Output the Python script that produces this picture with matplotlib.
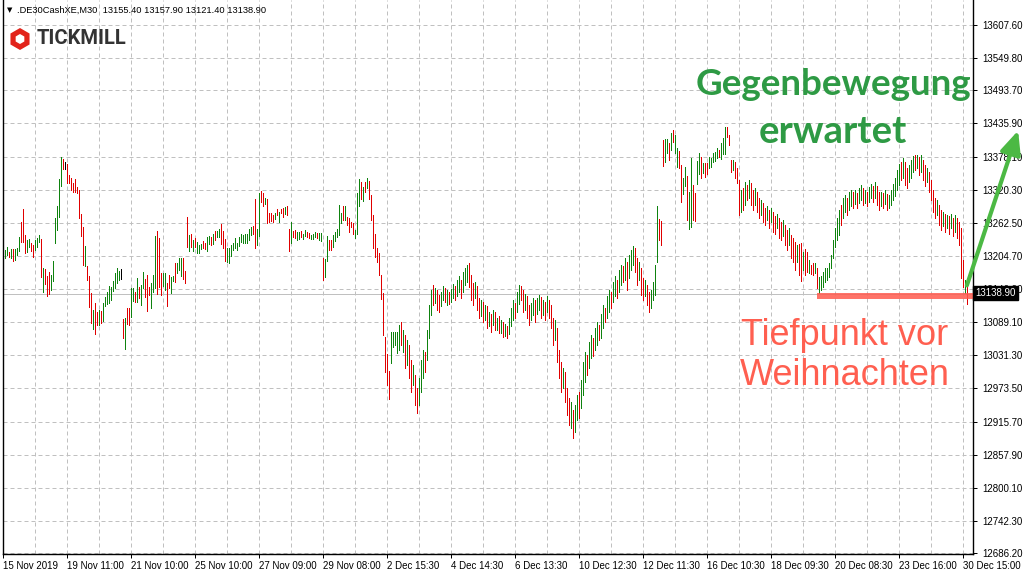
import matplotlib
matplotlib.use('Agg')
import matplotlib.pyplot as plt
from matplotlib.patches import RegularPolygon

# M30 bars of DE30 (high / low), 10 bars per row
highs = [
    13220, 13215, 13220, 13211, 13217, 13217, 13217, 13218, 13238, 13264,
    13286, 13241, 13232, 13234, 13227, 13224, 13232, 13236, 13241, 13234,
    13184, 13182, 13170, 13177, 13171, 13196, 13271, 13292, 13339, 13377,
    13374, 13369, 13365, 13346, 13341, 13332, 13339, 13325, 13320, 13278,
    13255, 13222, 13187, 13170, 13140, 13110, 13122, 13107, 13110, 13109,
    13122, 13133, 13142, 13152, 13150, 13161, 13175, 13184, 13178, 13182,
    13095, 13096, 13114, 13114, 13149, 13149, 13142, 13166, 13150, 13154,
    13177, 13164, 13171, 13150, 13157, 13171, 13239, 13248, 13236, 13175,
    13175, 13175, 13157, 13171, 13168, 13170, 13192, 13192, 13201, 13201,
    13201, 13178, 13273, 13241, 13243, 13232, 13236, 13229,
    13224, 13225, 13231, 13227, 13238, 13239, 13238, 13243, 13248, 13248,
    13252, 13260, 13248, 13234, 13218, 13218, 13224, 13227, 13236, 13227,
    13238, 13243, 13241, 13243, 13243, 13252, 13255, 13257, 13304, 13252,
    13314, 13318, 13314, 13306, 13304, 13280, 13280, 13276, 13280, 13287,
    13281, 13287, 13288, 13290, 13292, 13252, 13264, 13248, 13250, 13246,
    13246, 13248, 13243, 13250, 13246, 13245, 13241, 13243, 13246, 13245,
    13245, 13245, 13201, 13199, 13239, 13232, 13232, 13241, 13246, 13252,
    13293, 13280, 13292, 13292, 13273, 13271, 13264, 13262, 13250, 13314,
    13339, 13334, 13325, 13334, 13341, 13335, 13311, 13276, 13243, 13218,
    13210, 13171, 13140, 13063, 13034, 13004, 13072, 13072, 13072, 13072,
    13084, 13089, 13075, 13067, 13058, 13049, 13023, 13014, 12997, 12974,
    12992, 13023, 13041, 13037, 13075, 13119, 13145, 13154, 13149, 13145,
    13136, 13142, 13152, 13149, 13145, 13142, 13147, 13156, 13152, 13163,
    13170, 13163, 13177, 13184, 13189, 13192, 13171, 13157, 13159, 13152,
    13131, 13128, 13124, 13119, 13117, 13107, 13103, 13110, 13107, 13096,
    13100, 13093, 13089, 13086, 13082, 13096, 13114, 13128, 13122, 13142,
    13154, 13152, 13145, 13138, 13135, 13119, 13122, 13131, 13128, 13131,
    13136, 13133, 13128, 13124, 13135, 13128, 13119, 13096, 13093, 13079,
    13041, 13019, 13009, 13002, 12974, 12957, 12950, 12936, 12945, 12962,
    12967, 12988, 13019, 13037, 13032, 13054, 13067, 13061, 13079, 13089,
    13084, 13103, 13119, 13114, 13135, 13145, 13142, 13159, 13170, 13163,
    13180, 13189, 13187, 13201, 13194, 13206, 13215, 13222, 13218, 13201,
    13194, 13184, 13166, 13163, 13154, 13142, 13145, 13159, 13189, 13292,
    13269, 13266, 13407, 13409, 13409, 13402, 13419, 13424, 13416, 13393,
    13388, 13363, 13341, 13360, 13344, 13316, 13375, 13328, 13314, 13370,
    13384, 13377, 13367, 13367, 13367, 13377, 13375, 13384, 13386, 13393,
    13390, 13402, 13410, 13430, 13430, 13416, 13372, 13372, 13368, 13358,
    13337, 13320, 13323, 13334, 13328, 13337, 13332, 13320, 13323, 13316,
    13306, 13302, 13297, 13288, 13292, 13285, 13288, 13281, 13274, 13278,
    13271, 13264, 13267, 13259, 13250, 13253, 13241, 13236, 13229, 13224,
    13225, 13227, 13211, 13217, 13211, 13198, 13189, 13192, 13192, 13184,
    13168, 13170, 13177, 13184, 13184, 13192, 13206, 13232, 13253, 13271,
    13285, 13293, 13306, 13311, 13306, 13316, 13320, 13316, 13320, 13314,
    13323, 13328, 13323, 13320, 13316, 13325, 13330, 13327, 13334, 13327,
    13316, 13316, 13314, 13320, 13313, 13311, 13320, 13330, 13341, 13355,
    13365, 13368, 13375, 13368, 13358, 13363, 13372, 13379, 13381, 13381,
    13377, 13381, 13372, 13363, 13358, 13351, 13337, 13320, 13306, 13302,
    13293, 13285, 13281, 13278, 13276, 13274, 13278, 13271, 13276, 13271,
    13264, 13253, 13197, 13163, 13157.9]
lows = [
    13180, 13201, 13206, 13203, 13201, 13196, 13197, 13206, 13213, 13229,
    13229, 13210, 13211, 13220, 13213, 13203, 13215, 13220, 13229, 13168,
    13142, 13156, 13135, 13138, 13145, 13161, 13227, 13250, 13273, 13327,
    13356, 13356, 13332, 13332, 13320, 13316, 13316, 13314, 13271, 13239,
    13189, 13187, 13163, 13116, 13088, 13077, 13068, 13084, 13084, 13088,
    13091, 13117, 13121, 13122, 13128, 13143, 13149, 13157, 13163, 13164,
    13061, 13042, 13086, 13084, 13098, 13126, 13124, 13124, 13131, 13119,
    13149, 13133, 13109, 13136, 13114, 13142, 13149, 13138, 13150, 13136,
    13152, 13145, 13117, 13149, 13140, 13161, 13159, 13175, 13180, 13170,
    13164, 13157, 13220, 13213, 13220, 13213, 13220, 13210,
    13210, 13217, 13218, 13217, 13213, 13225, 13224, 13225, 13232, 13238,
    13238, 13225, 13218, 13196, 13194, 13192, 13205, 13215, 13218, 13215,
    13222, 13229, 13227, 13227, 13227, 13232, 13241, 13243, 13218, 13224,
    13239, 13299, 13292, 13295, 13262, 13264, 13266, 13264, 13269, 13276,
    13264, 13280, 13273, 13278, 13276, 13213, 13227, 13238, 13236, 13232,
    13234, 13238, 13234, 13239, 13238, 13236, 13234, 13234, 13238, 13236,
    13232, 13231, 13163, 13168, 13196, 13215, 13215, 13220, 13231, 13238,
    13241, 13262, 13267, 13267, 13259, 13246, 13255, 13243, 13236, 13243,
    13292, 13304, 13300, 13316, 13323, 13304, 13267, 13218, 13203, 13194,
    13171, 13129, 13067, 13002, 12979, 12955, 13018, 13045, 13049, 13035,
    13041, 13049, 13037, 13009, 13014, 12992, 12967, 12979, 12944, 12931,
    12945, 12967, 12992, 13002, 13023, 13061, 13101, 13119, 13122, 13110,
    13107, 13117, 13128, 13124, 13119, 13121, 13124, 13131, 13128, 13135,
    13142, 13131, 13142, 13154, 13159, 13150, 13128, 13119, 13131, 13110,
    13096, 13100, 13089, 13093, 13079, 13082, 13072, 13084, 13075, 13075,
    13070, 13070, 13063, 13065, 13061, 13068, 13082, 13093, 13096, 13107,
    13121, 13128, 13107, 13110, 13096, 13084, 13093, 13102, 13089, 13103,
    13110, 13096, 13102, 13093, 13107, 13096, 13079, 13049, 13058, 13019,
    12992, 12967, 12974, 12950, 12927, 12910, 12904, 12887, 12897, 12918,
    12922, 12939, 12962, 12985, 12997, 13009, 13026, 13030, 13041, 13049,
    13058, 13061, 13079, 13089, 13096, 13107, 13114, 13124, 13135, 13131,
    13142, 13154, 13159, 13163, 13145, 13166, 13180, 13189, 13177, 13154,
    13163, 13136, 13128, 13135, 13119, 13107, 13114, 13128, 13136, 13194,
    13232, 13224, 13361, 13369, 13384, 13372, 13390, 13403, 13384, 13360,
    13358, 13299, 13313, 13327, 13267, 13252, 13255, 13267, 13266, 13330,
    13348, 13341, 13349, 13342, 13348, 13358, 13360, 13369, 13370, 13375,
    13377, 13374, 13382, 13382, 13412, 13398, 13351, 13355, 13341, 13332,
    13276, 13281, 13285, 13293, 13302, 13306, 13293, 13285, 13293, 13281,
    13271, 13276, 13264, 13259, 13267, 13253, 13264, 13246, 13243, 13253,
    13236, 13232, 13239, 13224, 13215, 13224, 13201, 13194, 13180, 13194,
    13171, 13161, 13180, 13171, 13177, 13175, 13173, 13171, 13175, 13149,
    13140, 13145, 13150, 13159, 13163, 13168, 13184, 13201, 13220, 13232,
    13241, 13259, 13271, 13281, 13276, 13285, 13292, 13288, 13295, 13288,
    13297, 13302, 13293, 13297, 13292, 13299, 13306, 13299, 13306, 13293,
    13285, 13292, 13288, 13295, 13285, 13288, 13293, 13302, 13309, 13320,
    13328, 13337, 13341, 13328, 13323, 13334, 13341, 13351, 13355, 13358,
    13346, 13351, 13337, 13327, 13334, 13316, 13302, 13281, 13271, 13276,
    13259, 13250, 13257, 13246, 13253, 13243, 13253, 13239, 13246, 13236,
    13224, 13166, 13150, 13140, 13121.4]
# bar direction: G = up, R = down, B = unchanged
moves = ''.join([
    'GGGRGRGGGR', 'RRGGRRGGGR', 'GRRRGGGGGG', 'RBRRRRRRRR', 'RGRRRGRRGR',
    'GGGGGGGGGB', 'RGRRGGRGRG', 'GRRRGGGRRR', 'GGRRGGRGGG', 'RRRGRGRG',
    'GGRRGGRGRG', 'GRRRGGGGGG', 'GGGGGGGRRG', 'GRRGRRRRGR', 'GRRGRRGRRG',
    'GRGGRRGGGR', 'GGRGGRRGGG', 'GGRGRRRRGG', 'GRGRGRRRRR', 'RRRRRRGGGG',
    'GRGRGRRGRR', 'GGGRGGGRGR', 'RGGRGRGGRG', 'GRGGGRRRGR', 'RGRGRGRGRG',
    'RGRGRGGGRG', 'GRRGRRGGRG', 'GRGRGRRRGR', 'RRGRRRGRGG', 'RGGGRGGRGG',
    'RGGRGGRGGR', 'GGRGRGGGRR', 'GRRGRRGGGG', 'RRRGGRGRGG', 'RRGGRGGRRG',
    'GRGRRGGGGG', 'RGGGRRRGRR', 'RGRGRGRRGR', 'RGRRGRGRRG', 'RRGRRGRRRG',
    'RRGRRGRRGR', 'GGGGGGGGGG', 'GRGGRGGRGR', 'GGRGRGGRGR', 'RGRGRGGGGG',
    'GRGRRGGGRG', 'RGRRGRRRRG', 'RRGRGRGRGR', 'RRRGR'])
assert len(highs) == len(lows) == len(moves)

price_ticks = [13607.60, 13549.80, 13493.70, 13435.90, 13378.10, 13320.30, 13262.50,
               13204.70, 13146.90, 13089.10, 13031.30, 12973.50, 12915.70, 12857.90,
               12800.10, 12742.30, 12686.20]
date_labels = ['15 Nov 2019', '19 Nov 11:00', '21 Nov 10:00', '25 Nov 10:00',
               '27 Nov 09:00', '29 Nov 08:00', '2 Dec 15:30', '4 Dec 14:30',
               '6 Dec 13:30', '10 Dec 12:30', '12 Dec 11:30', '16 Dec 10:30',
               '18 Dec 09:30', '20 Dec 08:30', '23 Dec 16:00', '30 Dec 15:00']
last_price = 13138.90
support_level = 13135.0   # pre-Christmas low (18 Dec)
support_start = 407       # bar index where the marked low starts
header = '.DE30CashXE,M30  13155.40 13157.90 13121.40 13138.90'

bar_colors = {'G': '#0f820f', 'R': '#e00000', 'B': '#000000'}
grid_color = '#c0c0c0'
font = ['Liberation Sans', 'DejaVu Sans']

fig = plt.figure(figsize=(10.24, 5.76), dpi=100)
W, H = 1024, 576
ax = fig.add_axes([3 / W, 22 / H, 970 / W, 554 / H])
ax.set_xlim(-0.17, 484.83)
ax.set_ylim(12684.5, 13651.2)

# grid: every 16 bars vertically, at the price ticks horizontally
for k in range(0, 485, 16):
    ax.axvline(k, color=grid_color, lw=0.72, ls=(0, (4, 3)), zorder=0)
for p in price_ticks:
    ax.axhline(p, color=grid_color, lw=0.72, ls=(0, (4, 3)), zorder=0)
ax.axhline(last_price, color=grid_color, lw=0.72, zorder=1)

# bars
xs = list(range(len(highs)))
ax.vlines(xs, lows, highs, colors=[bar_colors[m] for m in moves],
          lw=0.72, antialiased=False, zorder=2)

# axes styling like the trading terminal
ax.spines['top'].set_visible(False)
for s in ['left', 'right', 'bottom']:
    ax.spines[s].set_color('black')
    ax.spines[s].set_linewidth(1.0)
ax.yaxis.tick_right()
ax.set_yticks(price_ticks, ['%.2f' % p for p in price_ticks])
ax.set_xticks(range(0, 32 * len(date_labels), 32), date_labels, ha='left')
ax.tick_params(axis='y', direction='out', length=3, width=0.72, pad=4, labelsize=7)
ax.tick_params(axis='x', direction='out', length=3, width=0.72, pad=2, labelsize=7)
for lab in ax.get_xticklabels() + ax.get_yticklabels():
    lab.set_family(font)

# current price box
fig.text(975 / W, 1 - 293 / H, '%.2f' % last_price, color='white', fontsize=7,
         family=font, va='center', ha='left', zorder=5,
         bbox=dict(boxstyle='square,pad=0.25', fc='black', ec='black'))

# header line
fig.text(7 / W, 1 - 10 / H, '\u25bc', fontsize=5, va='center', family='DejaVu Sans')
fig.text(17 / W, 1 - 10 / H, header, fontsize=6.65, va='center', family=font)

# logo
fig.patches.append(RegularPolygon((20, H - 39), 6, radius=11, orientation=0,
                                  fc='#e2231a', ec='none', transform=None))
fig.patches.append(RegularPolygon((20, H - 39), 6, radius=5, orientation=0,
                                  fc='white', ec='none', transform=None))
fig.text(37 / W, 1 - 39 / H, 'TICKMILL', fontsize=14.5, fontweight='bold',
         color='#333333', family=['Roboto', 'DejaVu Sans'], va='center')

# annotations
ax.hlines(support_level, support_start, 486, color='#ff5a4e', lw=4.3, alpha=0.85,
          clip_on=False, zorder=3)
fig.text(833 / W, 1 - 95 / H, 'Gegenbewegung', fontsize=26.5, fontweight='bold',
         color='#2e9a44', family=['Lato', 'DejaVu Sans'], ha='center', va='baseline')
fig.text(833 / W, 1 - 143 / H, 'erwartet', fontsize=27.5, fontweight='bold',
         color='#2e9a44', family=['Lato', 'DejaVu Sans'], ha='center', va='baseline')
fig.text(845 / W, 1 - 345 / H, 'Tiefpunkt vor', fontsize=26, color='#ff5f50',
         family=['Liberation Sans', 'DejaVu Sans'], ha='center', va='baseline')
fig.text(845 / W, 1 - 385 / H, 'Weihnachten', fontsize=26, color='#ff5f50',
         family=['Liberation Sans', 'DejaVu Sans'], ha='center', va='baseline')
ax.annotate('', xy=(1019, H - 128), xytext=(966, H - 288), xycoords='figure pixels',
            textcoords='figure pixels',
            arrowprops=dict(arrowstyle='-|>,head_length=1.0,head_width=0.45',
                            color='#4cb944', lw=3, mutation_scale=14))

fig.savefig('out.png', dpi=100)
